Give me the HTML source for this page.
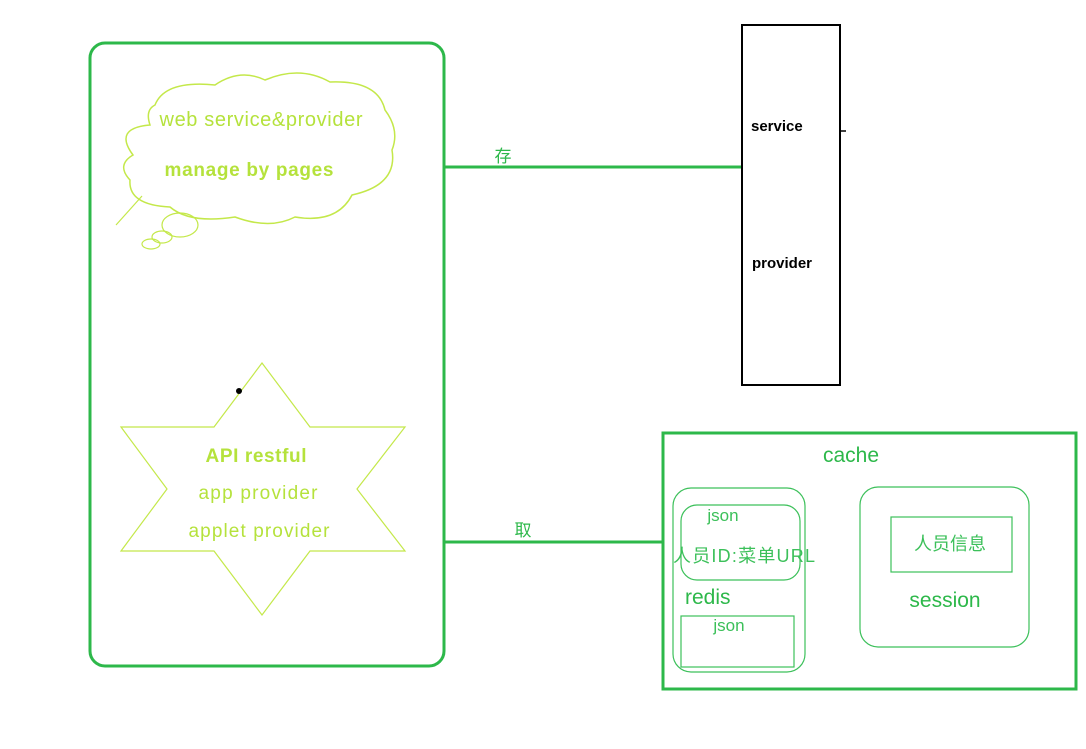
<!DOCTYPE html>
<html><head><meta charset="utf-8"><style>
html,body{margin:0;padding:0;background:#fff;width:1086px;height:749px;overflow:hidden}
svg{display:block}
text{font-family:"Liberation Sans","Noto Sans CJK SC",sans-serif}
</style></head><body>
<svg width="1086" height="749" viewBox="0 0 1086 749">
<rect x="90" y="43" width="354" height="623" rx="15" fill="none" stroke="#2db84a" stroke-width="3"/>
<path d="M155,105 Q165,80 215,85 Q240,68 265,80 Q300,65 330,82 Q378,80 385,110 Q400,130 392,150 Q398,185 352,195 Q337,224 295,217 Q270,230 235,217 Q190,224 170,207 Q128,205 130,180 Q116,165 133,155 Q113,128 150,125 Q145,110 155,105 Z" fill="none" stroke="#c4e84a" stroke-width="1.5"/>
<line x1="142" y1="196" x2="116" y2="225" stroke="#c4e84a" stroke-width="1.2"/>
<ellipse cx="180" cy="225" rx="18" ry="12" fill="none" stroke="#c4e84a" stroke-width="1.2"/>
<ellipse cx="162" cy="237" rx="10" ry="6" fill="none" stroke="#c4e84a" stroke-width="1.2"/>
<ellipse cx="151" cy="244" rx="9" ry="5" fill="none" stroke="#c4e84a" stroke-width="1.2"/>
<text x="261" y="126" font-size="20" fill="#b5e23c" text-anchor="middle" textLength="203">web service&amp;provider</text>
<text x="249" y="176" font-size="19" font-weight="bold" fill="#b5e23c" text-anchor="middle" textLength="169">manage by pages</text>
<polygon points="262,363 310,427 405,427 357,489 405,551 310,551 262,615 214,551 121,551 167,489 121,427 214,427" fill="none" stroke="#c4e84a" stroke-width="1.2"/>
<circle cx="239" cy="391" r="3" fill="#000"/>
<text x="256" y="462" font-size="19" font-weight="bold" fill="#b5e23c" text-anchor="middle" textLength="101">API restful</text>
<text x="258" y="499" font-size="19" fill="#b5e23c" text-anchor="middle" textLength="119">app provider</text>
<text x="259" y="537" font-size="19" fill="#b5e23c" text-anchor="middle" textLength="141">applet provider</text>
<line x1="444" y1="167" x2="741" y2="167" stroke="#2db84a" stroke-width="3"/>
<text x="503" y="162" font-size="17" fill="#2db84a" text-anchor="middle">存</text>
<line x1="444" y1="542" x2="662" y2="542" stroke="#2db84a" stroke-width="3"/>
<text x="523" y="536" font-size="17" fill="#2db84a" text-anchor="middle">取</text>
<rect x="742" y="25" width="98" height="360" fill="#fff" stroke="#000" stroke-width="2"/>
<line x1="840" y1="131" x2="846" y2="131" stroke="#000" stroke-width="1.5"/>
<text x="751" y="131" font-size="15" font-weight="bold" fill="#000">service</text>
<text x="752" y="268" font-size="15" font-weight="bold" fill="#000">provider</text>
<rect x="663" y="433" width="413" height="256" fill="none" stroke="#2db84a" stroke-width="3"/>
<text x="851" y="462" font-size="21" fill="#2db84a" text-anchor="middle">cache</text>
<rect x="673" y="488" width="132" height="184" rx="18" fill="none" stroke="#3cc05a" stroke-width="1.2"/>
<rect x="681" y="505" width="119" height="75" rx="16" fill="none" stroke="#3cc05a" stroke-width="1.2"/>
<text x="723" y="521" font-size="17" fill="#3cc05a" text-anchor="middle">json</text>
<text x="673" y="562" font-size="18" fill="#3cc05a" textLength="142">人员ID:菜单URL</text>
<text x="685" y="604" font-size="21" fill="#2db84a">redis</text>
<rect x="681" y="616" width="113" height="51" fill="none" stroke="#3cc05a" stroke-width="1.2"/>
<text x="729" y="631" font-size="17" fill="#3cc05a" text-anchor="middle">json</text>
<rect x="860" y="487" width="169" height="160" rx="18" fill="none" stroke="#3cc05a" stroke-width="1.2"/>
<rect x="891" y="517" width="121" height="55" fill="none" stroke="#3cc05a" stroke-width="1.2"/>
<text x="950" y="550" font-size="18" fill="#3cc05a" text-anchor="middle">人员信息</text>
<text x="945" y="607" font-size="21" fill="#2db84a" text-anchor="middle">session</text>
</svg>
</body></html>
